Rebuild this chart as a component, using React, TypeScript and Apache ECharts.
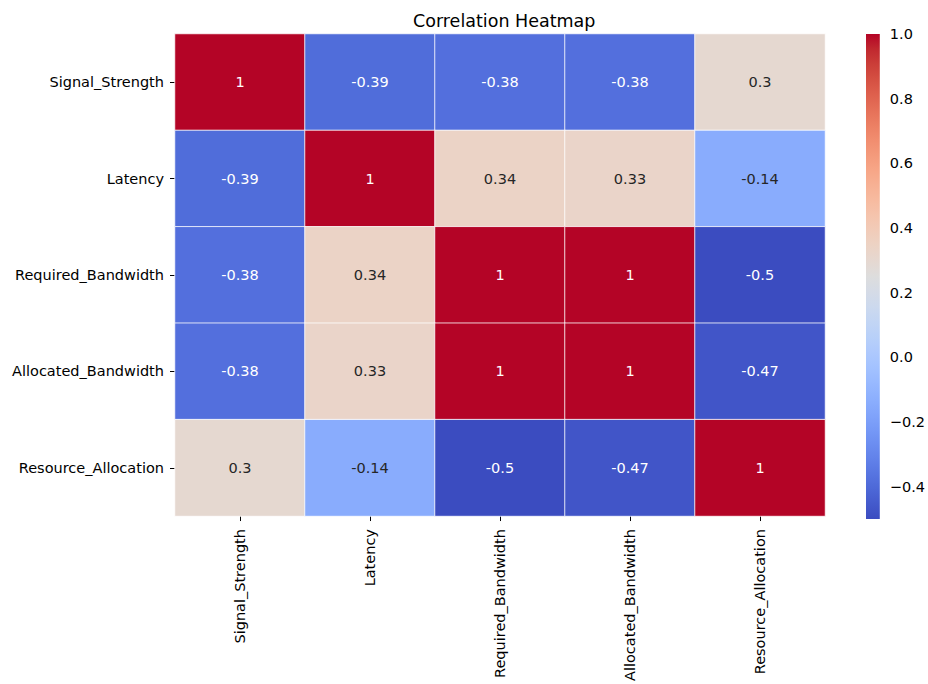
import React, { useEffect, useRef } from "react";
import * as echarts from "echarts";

const labels = [
  "Signal_Strength",
  "Latency",
  "Required_Bandwidth",
  "Allocated_Bandwidth",
  "Resource_Allocation",
];

const rowSignal = [1, -0.39, -0.38, -0.38, 0.3];
const rowLatency = [-0.39, 1, 0.34, 0.33, -0.14];
const rowRequired = [-0.38, 0.34, 1, 1, -0.5];
const rowAllocated = [-0.38, 0.33, 1, 1, -0.47];
const rowResource = [0.3, -0.14, -0.5, -0.47, 1];

const matrix = [rowSignal, rowLatency, rowRequired, rowAllocated, rowResource];

const colorbarTicks = [-0.4, -0.2, 0.0, 0.2, 0.4, 0.6, 0.8, 1.0];
const vMin = -0.5;
const vMax = 1.0;

// Moreland coolwarm table
const coolwarm: number[][] = [
  [59, 76, 192], [68, 90, 204], [77, 104, 215], [87, 117, 225], [98, 130, 234],
  [108, 142, 241], [119, 154, 247], [130, 165, 251], [141, 176, 254], [152, 185, 255],
  [163, 194, 255], [174, 201, 253], [184, 208, 249], [194, 213, 244], [204, 217, 238],
  [213, 219, 230], [221, 221, 221], [229, 216, 209], [236, 211, 197], [241, 204, 185],
  [245, 196, 173], [247, 187, 160], [247, 177, 148], [247, 166, 135], [244, 154, 123],
  [241, 141, 111], [236, 127, 99], [229, 112, 88], [222, 96, 77], [213, 80, 66],
  [203, 62, 56], [192, 40, 47], [180, 4, 38],
];

const toHex = (c: number[]) =>
  "#" + c.map((v) => Math.round(v).toString(16).padStart(2, "0")).join("");

const cmapAt = (t: number) => {
  const tt = Math.max(0, Math.min(1, t)) * (coolwarm.length - 1);
  const i = Math.min(Math.floor(tt), coolwarm.length - 2);
  const f = tt - i;
  const a = coolwarm[i];
  const b = coolwarm[i + 1];
  return [0, 1, 2].map((k) => a[k] + (b[k] - a[k]) * f);
};

const luminance = (c: number[]) => {
  const lin = c.map((v) => {
    const s = v / 255;
    return s <= 0.03928 ? s / 12.92 : Math.pow((s + 0.055) / 1.055, 2.4);
  });
  return 0.2126 * lin[0] + 0.7152 * lin[1] + 0.0722 * lin[2];
};

const FONT = "DejaVu Sans";

export default function App() {
  const ref = useRef<HTMLDivElement>(null);

  useEffect(() => {
    if (!ref.current) return;
    const chart = echarts.init(ref.current, null, { renderer: "svg" });

    const heatData: any[] = [];
    matrix.forEach((row, r) => {
      row.forEach((v, c) => {
        const col = cmapAt((v - vMin) / (vMax - vMin));
        const txt = luminance(col) > 0.408 ? "#262626" : "#ffffff";
        heatData.push({ value: [c, r, v], label: { color: txt } });
      });
    });

    const gradStops = coolwarm
      .map((c, i) => ({ offset: 1 - i / (coolwarm.length - 1), color: toHex(c) }))
      .reverse();

    chart.setOption({
      animation: false,
      backgroundColor: "#ffffff",
      title: {
        text: "Correlation Heatmap",
        left: 408,
        top: 7,
        textStyle: { fontFamily: FONT, fontSize: 17.5, fontWeight: "normal", color: "#000" },
      },
      grid: [
        { left: 175, top: 34, width: 650, height: 485 },
        { left: 866, top: 34, width: 25, height: 485 },
      ],
      xAxis: [
        {
          type: "category",
          gridIndex: 0,
          data: labels,
          position: "bottom",
          axisLine: { show: false },
          axisTick: { show: true, alignWithLabel: true, length: 5, lineStyle: { color: "#000", width: 1 } },
          axisLabel: { rotate: 90, margin: 13, fontFamily: FONT, fontSize: 14.5, color: "#000" },
          splitLine: { show: false },
          splitArea: { show: false },
        },
        {
          type: "value",
          gridIndex: 1,
          min: 0,
          max: 1,
          show: false,
        },
      ],
      yAxis: [
        {
          type: "category",
          gridIndex: 0,
          data: labels,
          inverse: true,
          axisLine: { show: false },
          axisTick: { show: true, alignWithLabel: true, length: 5, lineStyle: { color: "#000", width: 1 } },
          axisLabel: { margin: 11, fontFamily: FONT, fontSize: 14.5, color: "#000" },
          splitLine: { show: false },
          splitArea: { show: false },
        },
        {
          type: "value",
          gridIndex: 1,
          min: vMin,
          max: vMax,
          position: "right",
          axisLine: { show: false },
          axisTick: {
            show: true,
            length: 5,
            customValues: colorbarTicks,
            lineStyle: { color: "#000", width: 1 },
          },
          axisLabel: {
            show: true,
            margin: 10,
            customValues: colorbarTicks,
            fontFamily: FONT,
            fontSize: 14.5,
            color: "#000",
            formatter: (v: number) => (v < 0 ? "\u2212" : "") + Math.abs(v).toFixed(1),
          },
          splitLine: { show: false },
        },
      ],
      visualMap: {
        type: "continuous",
        show: false,
        min: vMin,
        max: vMax,
        seriesIndex: 0,
        dimension: 2,
        inRange: { color: coolwarm.map(toHex) },
      },
      series: [
        {
          type: "heatmap",
          xAxisIndex: 0,
          yAxisIndex: 0,
          data: heatData,
          itemStyle: { borderColor: "#ffffff", borderWidth: 0.8 },
          label: {
            show: true,
            fontFamily: FONT,
            fontSize: 14.5,
            formatter: (p: any) => String(p.value[2]),
          },
          emphasis: { disabled: true },
        },
        {
          type: "custom",
          xAxisIndex: 1,
          yAxisIndex: 1,
          data: [[0, vMax]],
          silent: true,
          renderItem: (params: any, api: any) => {
            const p0 = api.coord([0, vMax]);
            const p1 = api.coord([1, vMin]);
            return {
              type: "rect",
              shape: { x: p0[0], y: p0[1], width: p1[0] - p0[0], height: p1[1] - p0[1] },
              style: { fill: new echarts.graphic.LinearGradient(0, 0, 0, 1, gradStops) },
            };
          },
        },
      ],
    });

    return () => chart.dispose();
  }, []);

  return (
    <div
      ref={ref}
      style={{ position: "fixed", left: 0, top: 0, width: 928, height: 684, background: "#fff" }}
    />
  );
}
